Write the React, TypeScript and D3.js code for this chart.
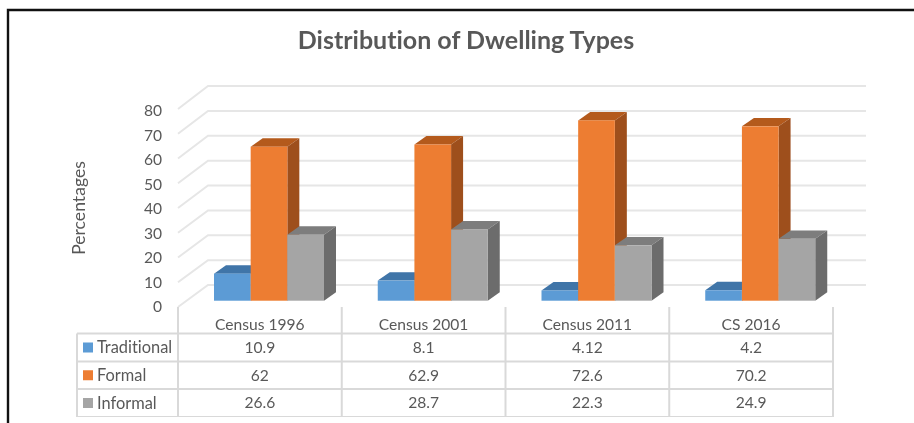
import * as d3 from "d3"

const categories = ["Census 1996", "Census 2001", "Census 2011", "CS 2016"]
const seriesNames = ["Traditional", "Formal", "Informal"]
const traditional = [10.9, 8.1, 4.12, 4.2]
const formal = [62, 62.9, 72.6, 70.2]
const informal = [26.6, 28.7, 22.3, 24.9]
const yTicks = [0, 10, 20, 30, 40, 50, 60, 70, 80]

const seriesValues = [traditional, formal, informal]
const front = ["#5b9bd5", "#ed7d31", "#a5a5a5"]
const top = ["#3f74a8", "#b45a1e", "#7d7d7d"]
const side = ["#3a6a9c", "#9e4f1b", "#6c6c6c"]

const width = 914
const height = 423
const font = "Lato, 'Open Sans', sans-serif"
const textColor = "#595959"
const gridColor = "#e6e6e6"
const tableColor = "#d9d9d9"
const tableFont = 15.6

// fake 3D: the floor recedes by this much
const wallDx = 30
const barDx = 12
const barDy = -8.4

const x = d3.scaleBand<string>().domain(categories).range([178, 833])
const bars = d3.scaleBand<string>().domain(seriesNames).range([36, 36 + 110])
const yBar = d3.scaleLinear().domain([0, 80]).range([300.7, 102])
const yWall = d3.scaleLinear().domain([0, 80]).range([285, 86])
const yFront = d3.scaleLinear().domain([0, 80]).range([307, 109])
const yLabel = d3.scaleLinear().domain([0, 80]).range([307, 110.5])

const rows = d3
  .scaleOrdinal<string, number>()
  .domain(["head", ...seriesNames, "end"])
  .range([307, 333.5, 361.5, 389, 417])

export default function App() {
  const tableLeft = 77
  const colEdges = [...categories.map((c) => x(c) as number), x.range()[1]]

  return (
    <svg
      width={width}
      height={height}
      style={{ position: "absolute", left: 0, top: 0, background: "#fff", fontVariantLigatures: "none" }}
      fontFamily={font}
    >
      <defs>
        <filter id="soft" x="0" y="0" width="100%" height="100%">
          <feGaussianBlur stdDeviation="0.4" />
        </filter>
      </defs>

      {/* frame: only top and left show in the crop */}
      <path d={`M8,${height} V10 H${width}`} fill="none" stroke="#111" strokeWidth={2.4} />

      <g filter="url(#soft)">
        <text
          x={466}
          y={48.5}
          textAnchor="middle"
          fontSize={25}
          fontWeight={700}
          fill={textColor}
        >
          Distribution of Dwelling Types
        </text>

        {/* wall and side gridlines */}
        {yTicks.map((t) => (
          <path
            key={t}
            d={`M178,${yFront(t)} L${178 + wallDx},${yWall(t)} H866`}
            stroke={gridColor}
            strokeWidth={2}
            fill="none"
          />
        ))}

        {/* y axis */}
        {yTicks.map((t) => (
          <text
            key={t}
            x={162}
            y={yLabel(t)}
            dy="0.35em"
            textAnchor="end"
            fontSize={tableFont}
            fill={textColor}
          >
            {t}
          </text>
        ))}
        <text
          transform="translate(85,208) rotate(-90)"
          textAnchor="middle"
          fontSize={17.6}
          fill={textColor}
        >
          Percentages
        </text>

        {/* bars, left to right so each one covers its neighbour's side face */}
        {categories.map((c, ci) => (
          <g key={c}>
            {seriesNames.map((s, si) => {
              const x0 = (x(c) as number) + (bars(s) as number)
              const x1 = x0 + bars.bandwidth()
              const y0 = yBar(0)
              const y1 = yBar(seriesValues[si][ci])
              return (
                <g key={s}>
                  <path
                    d={`M${x0},${y1} L${x0 + barDx},${y1 + barDy} H${x1 + barDx} L${x1},${y1} Z`}
                    fill={top[si]}
                  />
                  <path
                    d={`M${x1},${y0} L${x1 + barDx},${y0 + barDy} V${y1 + barDy} L${x1},${y1} Z`}
                    fill={side[si]}
                  />
                  <rect x={x0} y={y1} width={x1 - x0} height={y0 - y1} fill={front[si]} />
                </g>
              )
            })}
          </g>
        ))}

        {/* data table */}
        <g stroke={tableColor} strokeWidth={2} fill="none">
          {seriesNames.map((s) => (
            <path key={s} d={`M${tableLeft},${rows(s)} H833`} />
          ))}
          <path d={`M${tableLeft},${rows("end")} H833`} />
          <path d={`M${tableLeft},${rows("Traditional")} V${rows("end")}`} />
          {colEdges.map((e) => (
            <path key={e} d={`M${e},${rows("head")} V${rows("end")}`} />
          ))}
        </g>
        {categories.map((c) => (
          <text
            key={c}
            x={(x(c) as number) + x.bandwidth() / 2}
            y={(rows("head") + rows("Traditional")) / 2 + 4}
            dy="0.35em"
            textAnchor="middle"
            fontSize={tableFont}
            fill={textColor}
          >
            {c}
          </text>
        ))}
        {seriesNames.map((s, si) => {
          const next = si < 2 ? rows(seriesNames[si + 1]) : rows("end")
          const mid = (rows(s) + next) / 2
          return (
            <g key={s}>
              <rect x={83} y={mid - 5} width={10} height={10} fill={front[si]} />
              <text x={97} y={mid} dy="0.35em" fontSize={tableFont + 0.8} fill={textColor}>
                {s}
              </text>
              {categories.map((c, ci) => (
                <text
                  key={c}
                  x={(x(c) as number) + x.bandwidth() / 2}
                  y={mid}
                  dy="0.35em"
                  textAnchor="middle"
                  fontSize={tableFont}
                  fill={textColor}
                >
                  {seriesValues[si][ci]}
                </text>
              ))}
            </g>
          )
        })}
      </g>
    </svg>
  )
}
